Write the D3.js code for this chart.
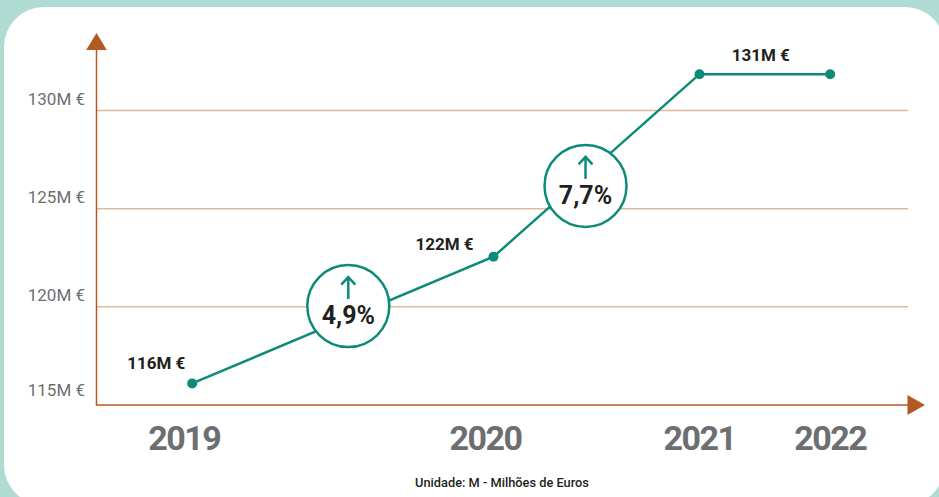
<!DOCTYPE html>
<html>
<head>
<meta charset="utf-8">
<script src="https://cdn.jsdelivr.net/npm/d3@7"></script>
<style>
  html, body { margin: 0; padding: 0; background: #fff; }
  svg { display: block; }
</style>
</head>
<body>
<svg id="chart" width="939" height="497"></svg>
<script>
// ---- data ----
const years = ["2019", "2020", "2021", "2022"];
const xPosition = [11.77, 48.83, 74.17, 90.24];      // position along time axis (% of axis length)
const revenue = [116.1, 122.55, 131.85, 131.85];      // millions of euros (as plotted)
const valueLabels = ["116M €", "122M €", "131M €"];
const yTicks = [115, 120, 125, 130];
const yTickLabels = ["115M €", "120M €", "125M €", "130M €"];
const growthLabels = ["4,9%", "7,7%"];
const growthX = [30.97, 60.15];
const growthY = [120.04, 126.16];
const footnote = "Unidade: M - Milhões de Euros";

// ---- style ----
const teal = "#0d8b79";
const brown = "#b35a24";
const gridColor = "#dcb99f";
const grey = "#6d6e71";
const dark = "#231f20";

const svg = d3.select("#chart");

// background card
svg.append("rect").attr("x", 0).attr("y", 0).attr("width", 939).attr("height", 497).attr("fill", "#afdbd2");
svg.append("rect").attr("x", 4).attr("y", 7).attr("width", 941).attr("height", 498)
  .attr("rx", 40).attr("ry", 40).attr("fill", "#ffffff");

const x = d3.scaleLinear().domain([0, 100]).range([96.5, 909.5]);
const y = d3.scaleLinear().domain([115, 130]).range([405, 110.5]);

// gridlines
svg.append("g").selectAll("line").data(yTicks.filter(d => d > 115)).join("line")
  .attr("x1", x(0)).attr("x2", 908)
  .attr("y1", d => y(d)).attr("y2", d => y(d))
  .attr("stroke", gridColor).attr("stroke-width", 1.5);

// y tick labels
svg.append("g").selectAll("text").data(yTicks).join("text")
  .attr("x", 85).attr("y", (d, i) => y(d) - (d === 115 ? 9 : 5.5))
  .attr("text-anchor", "end")
  .attr("font-family", "Roboto, sans-serif").attr("font-size", 17)
  .attr("fill", grey)
  .text((d, i) => yTickLabels[i]);

// axes
svg.append("line").attr("x1", x(0)).attr("x2", x(0)).attr("y1", 48).attr("y2", y(115))
  .attr("stroke", brown).attr("stroke-width", 1.5);
svg.append("line").attr("x1", x(0) - 0.75).attr("x2", 909).attr("y1", y(115)).attr("y2", y(115))
  .attr("stroke", brown).attr("stroke-width", 1.5);
svg.append("path").attr("d", `M${x(0)},33 L${x(0) + 10.3},50 L${x(0) - 10.3},50 Z`).attr("fill", brown);
svg.append("path").attr("d", `M925,${y(115)} L907.5,${y(115) - 10} L907.5,${y(115) + 10} Z`).attr("fill", brown);

// year labels
svg.append("g").selectAll("text").data(years).join("text")
  .attr("x", (d, i) => x(xPosition[i]) - (i < 2 ? 8 : 0))
  .attr("y", 450)
  .attr("text-anchor", "middle")
  .attr("font-family", "Roboto, sans-serif").attr("font-weight", 700).attr("font-size", 34)
  .attr("letter-spacing", -1.5)
  .attr("fill", grey)
  .text(d => d);

// line
const pts = years.map((d, i) => [x(xPosition[i]), y(revenue[i])]);
svg.append("path").attr("d", d3.line()(pts))
  .attr("fill", "none").attr("stroke", teal).attr("stroke-width", 2.5);
svg.append("g").selectAll("circle").data(pts).join("circle")
  .attr("cx", d => d[0]).attr("cy", d => d[1]).attr("r", 5).attr("fill", teal);

// value labels
const labelAnchors = [
  [pts[0][0] - 36, pts[0][1] - 14],
  [pts[1][0] - 49, pts[1][1] - 7],
  [(pts[2][0] + pts[3][0]) / 2 - 4, pts[2][1] - 13]
];
svg.append("g").selectAll("text").data(valueLabels).join("text")
  .attr("x", (d, i) => labelAnchors[i][0]).attr("y", (d, i) => labelAnchors[i][1])
  .attr("text-anchor", "middle")
  .attr("font-family", "Roboto, sans-serif").attr("font-weight", 700).attr("font-size", 17)
  .attr("fill", dark)
  .text(d => d);

// growth badges
const badges = svg.append("g").selectAll("g").data(growthLabels).join("g")
  .attr("transform", (d, i) => `translate(${x(growthX[i])},${y(growthY[i])})`);
badges.append("circle").attr("r", 41).attr("fill", "#fff").attr("stroke", teal).attr("stroke-width", 2.5);
badges.append("line").attr("x1", 0).attr("x2", 0).attr("y1", -29).attr("y2", -7)
  .attr("stroke", teal).attr("stroke-width", 2.5);
badges.append("path").attr("d", "M-7,-21.5 L0,-29 L7,-21.5")
  .attr("fill", "none").attr("stroke", teal).attr("stroke-width", 2.5);
badges.append("text").attr("x", 0).attr("y", 18)
  .attr("text-anchor", "middle")
  .attr("font-family", "Roboto, sans-serif").attr("font-weight", 700).attr("font-size", 25)
  .attr("fill", dark)
  .text(d => d);

// footnote
svg.append("text").attr("x", 502).attr("y", 487)
  .attr("text-anchor", "middle")
  .attr("font-family", "Roboto, sans-serif").attr("font-weight", 500).attr("font-size", 12.8)
  .attr("fill", dark)
  .text(footnote);
</script>
</body>
</html>
